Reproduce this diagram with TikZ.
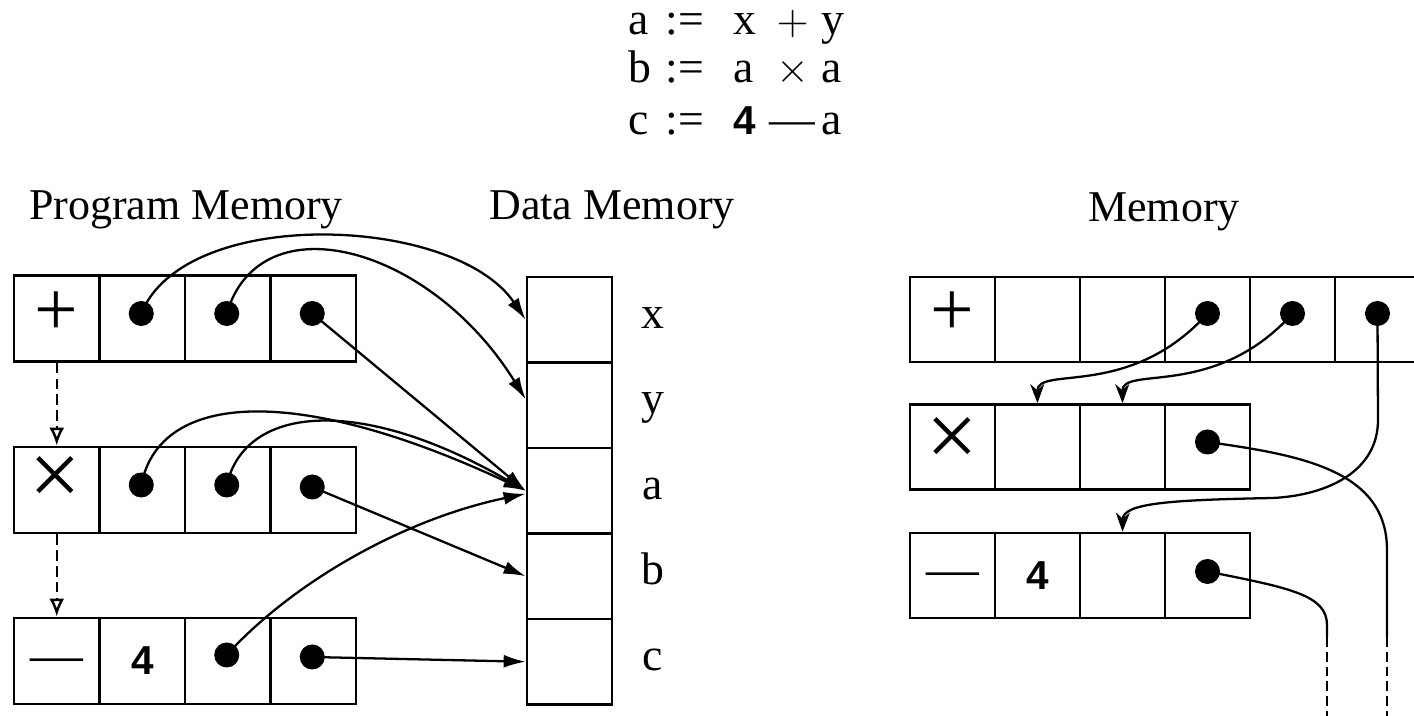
\documentclass[tikz,border=0pt]{standalone}
\usepackage{fontspec}
\setmainfont{Liberation Serif}
\newfontfamily\sansdigit{Liberation Sans}
\usetikzlibrary{arrows.meta,calc}
\newcommand\eqln[5]{\makebox[0.37cm][l]{#1}\makebox[0.68cm][l]{#2}\makebox[0.30cm][l]{#3}\makebox[0.58cm][c]{#4}#5}
\begin{document}
\begin{tikzpicture}[x=0.01cm,y=-0.01cm,
  cell/.style={draw,line width=0.75pt,minimum width=0.855cm,minimum height=0.86cm,inner sep=0pt},
  dcell/.style={cell,minimum width=0.85cm,minimum height=0.855cm},
  rcell/.style={cell,minimum width=0.85cm,minimum height=0.85cm},
  dot/.style={circle,fill,inner sep=0pt,minimum size=0.25cm},
  plussym/.style={font=\fontsize{22}{22}\selectfont},
  timessym/.style={font=\fontsize{26}{26}\selectfont},
  dashsym/.style={font=\fontsize{15}{15}\selectfont},
  digit/.style={font=\sansdigit\bfseries\fontsize{11.5}{12}\selectfont},
  title/.style={font=\fontsize{12.5}{15}\selectfont,anchor=base},
  eqtext/.style={font=\fontsize{13}{15}\selectfont,anchor=base west,inner sep=0pt},
  lbl/.style={font=\fontsize{13}{15}\selectfont,anchor=base,inner sep=0pt},
  ptr/.style={line width=0.65pt,-{Latex[length=2.2mm,width=1.3mm]}},
  rptr/.style={line width=0.65pt,-{Stealth[length=1.9mm,width=1.4mm,inset=0.6mm]}},
  wire/.style={line width=0.65pt},
  dwire/.style={line width=0.65pt,dash pattern=on 2.8pt off 1.4pt},
  seqarrow/.style={line width=0.7pt,dash pattern=on 3pt off 1.5pt,-{Latex[open,length=1.8mm,width=1.5mm]}}
]
\useasboundingbox[fill=white] (0,0) rectangle (1414,716);

% equations
\node[eqtext] (eq1) at (628,35) {\eqln{a}{:=}{x}{$+$}{y}};
\node[eqtext] (eq2) at (628,83) {\eqln{b}{:=}{a}{$\times$}{a}};
\node[eqtext] (eq3) at (628,135) {\eqln{c}{:=}{{\sansdigit\bfseries\fontsize{11.5}{12}\selectfont 4}}{—}{a}};

% titles
\node[title] (tpm) at (186,220) {Program Memory};
\node[title] (tdm) at (612,220) {Data Memory};
\node[title] (tm) at (1164,222) {Memory};

% program memory
\node[cell] (p11) at (56.75,318.5) {};
\node[cell] (p12) at (142.25,318.5) {};
\node[cell] (p13) at (227.75,318.5) {};
\node[cell] (p14) at (313.25,318.5) {};
\node[cell] (p21) at (56.75,490) {};
\node[cell] (p22) at (142.25,490) {};
\node[cell] (p23) at (227.75,490) {};
\node[cell] (p24) at (313.25,490) {};
\node[cell] (p31) at (56.75,661) {};
\node[cell,digit] (p32) at (142.25,661) {4};
\node[cell] (p33) at (227.75,661) {};
\node[cell] (p34) at (313.25,661) {};
\node[plussym,inner sep=0pt] (p11s) at ($(p11)+(0,-5)$) {+};
\node[timessym,inner sep=0pt] (p21s) at ($(p21)+(-1,-9)$) {×};
\node[dashsym,inner sep=0pt] (p31s) at ($(p31)+(0,5)$) {—};

\node[dot] (p12d) at ($(p12)+(-1,-5)$) {};
\node[dot] (p13d) at ($(p13)+(-1,-5)$) {};
\node[dot] (p14d) at ($(p14)+(-1,-5)$) {};
\node[dot] (p22d) at ($(p22)+(-1,-5)$) {};
\node[dot] (p23d) at ($(p23)+(-1,-5)$) {};
\node[dot] (p24d) at ($(p24)+(-1,-3)$) {};
\node[dot] (p33d) at ($(p33)+(-1,-6)$) {};
\node[dot] (p34d) at ($(p34)+(-1,-4)$) {};

% data memory
\node[dcell] (d1) at (569.5,319.75) {};
\node[dcell] (d2) at (569.5,405.25) {};
\node[dcell] (d3) at (569.5,490.75) {};
\node[dcell] (d4) at (569.5,576.25) {};
\node[dcell] (d5) at (569.5,661.75) {};
\node[lbl] (lx) at (653,329) {x};
\node[lbl] (ly) at (653,414) {y};
\node[lbl] (la) at (653,500) {a};
\node[lbl] (lb) at (653,585) {b};
\node[lbl] (lc) at (653,671) {c};

% sequencing arrows
\draw[seqarrow] (p11.south) -- (p21.north);
\draw[seqarrow] (p21.south) -- (p31.north);

% pointers program -> data
\draw[ptr] (p12d.center) .. controls (185,205) and (455,215) .. (d1.west);
\draw[ptr] (p13d.center) .. controls (260,200) and (430,245) .. ($(d2.west)+(0,-6)$);
\draw[ptr] (p14d.center) -- (d3.west);
\draw[ptr] (p22d.center) .. controls (160,390) and (300,385) .. (d3.west);
\draw[ptr] (p23d.center) .. controls (245,405) and (360,395) .. (d3.west);
\draw[ptr] (p24d.center) -- (d4.west);
\draw[ptr] (p33d.center) .. controls (290,585) and (400,520) .. ($(d3.west)+(0,3)$);
\draw[ptr] (p34d.center) -- (d5.west);

% right memory
\node[rcell] (m11) at (952.5,319.5) {};
\node[rcell] (m12) at (1037.5,319.5) {};
\node[rcell] (m13) at (1122.5,319.5) {};
\node[rcell] (m14) at (1207.5,319.5) {};
\node[rcell] (m15) at (1292.5,319.5) {};
\node[rcell] (m16) at (1377.5,319.5) {};
\node[rcell] (m21) at (952.5,447) {};
\node[rcell] (m22) at (1037.5,447) {};
\node[rcell] (m23) at (1122.5,447) {};
\node[rcell] (m24) at (1207.5,447) {};
\node[rcell] (m31) at (952.5,575.5) {};
\node[rcell,digit] (m32) at (1037.5,575.5) {4};
\node[rcell] (m33) at (1122.5,575.5) {};
\node[rcell] (m34) at (1207.5,575.5) {};
\node[plussym,inner sep=0pt] (m11s) at ($(m11)+(0,-6)$) {+};
\node[timessym,inner sep=0pt] (m21s) at ($(m21)+(0,-5)$) {×};
\node[dashsym,inner sep=0pt] (m31s) at ($(m31)+(0,4)$) {—};

\node[dot] (m14d) at ($(m14)+(0,-6)$) {};
\node[dot] (m15d) at ($(m15)+(0,-6)$) {};
\node[dot] (m16d) at ($(m16)+(0,-6)$) {};
\node[dot] (m24d) at ($(m24)+(0,-5)$) {};
\node[dot] (m34d) at ($(m34)+(0,-4)$) {};

\coordinate (r4a) at (1387,637);
\coordinate (r4b) at (1387,716);
\coordinate (r5a) at (1327,637);
\coordinate (r5b) at (1327,716);

\draw[rptr] (m14d.center) .. controls (1130,400) and (1037,365) .. (m22.north);
\draw[rptr] (m15d.center) .. controls (1215,400) and (1122,365) .. (m23.north);
\draw[rptr] (m16d.center) -- (1378,420) .. controls (1378,470) and (1330,495) .. (1273,498)
   .. controls (1170,500) and (1123,503) .. (m33.north);
\draw[wire] (m24d.center) .. controls (1300,455) and (1387,470) .. (1387,550) -- (r4a);
\draw[dwire] (r4a) -- (r4b);
\draw[wire] (m34d.center) .. controls (1290,588) and (1327,595) .. (1327,625) -- (r5a);
\draw[dwire] (r5a) -- (r5b);
\end{tikzpicture}
\end{document}
